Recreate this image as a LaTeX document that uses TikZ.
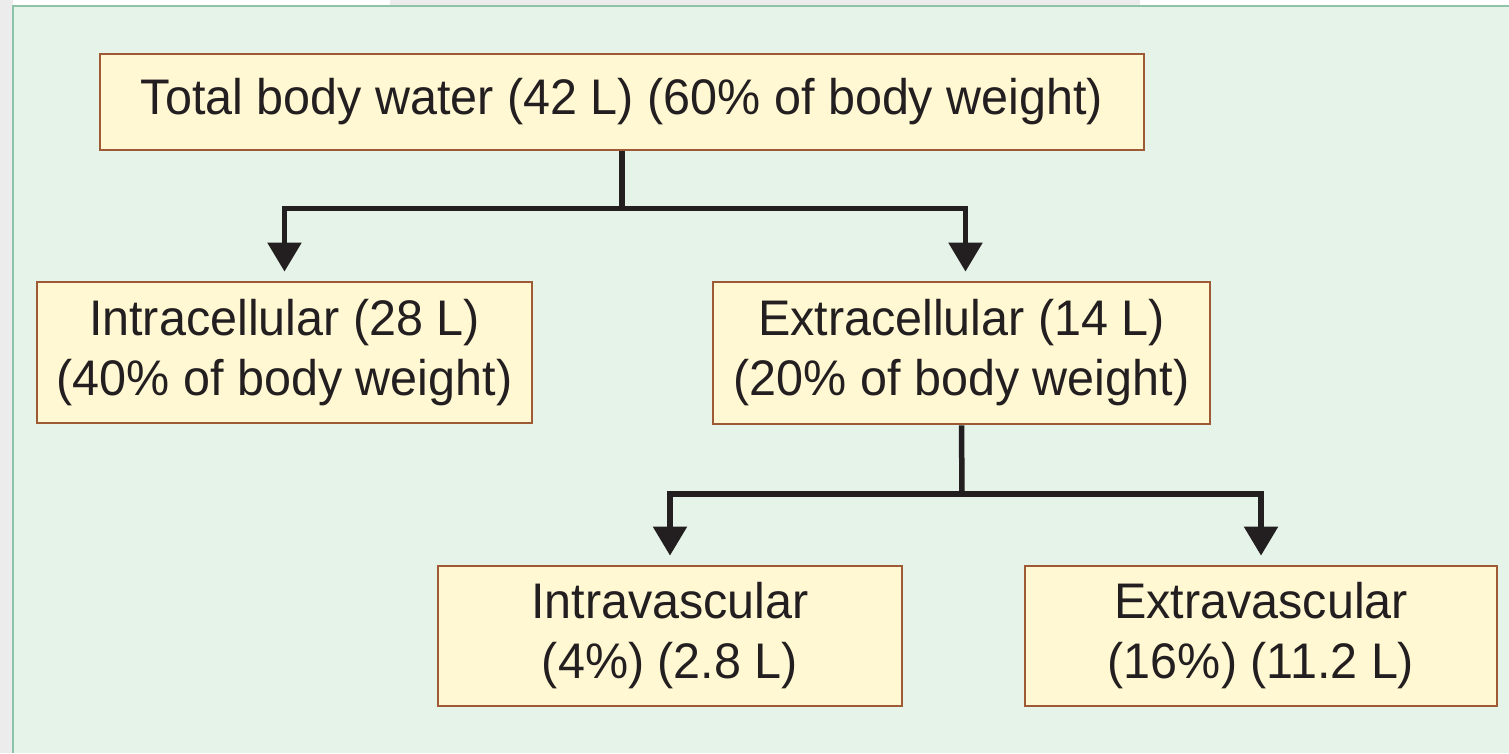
\documentclass[tikz,border=0pt]{standalone}
\usepackage{fontspec}
\setmainfont{Liberation Sans}[FakeStretch=0.97]
\usetikzlibrary{arrows.meta}
\definecolor{panelfill}{HTML}{E5F3E9}
\definecolor{panelline}{HTML}{8EC3AA}
\definecolor{boxfill}{HTML}{FFF8D2}
\definecolor{boxline}{HTML}{9E5A34}
\definecolor{inkc}{HTML}{231F20}
\definecolor{outergray}{HTML}{ECECEC}
\begin{document}
\begin{tikzpicture}[x=1pt,y=-1pt,
  box/.style={draw=boxline, fill=boxfill, line width=2.8pt, text=inkc, align=center,
    inner sep=0pt, font=\fontsize{50}{60}\selectfont},
  conn/.style={draw=inkc, line width=5.5pt},
  arr/.style={conn, -{Triangle[width=33pt,length=29pt]}, shorten >=9pt}]
\useasboundingbox (0,0) rectangle (1509,753);
\fill[white] (0,0) rectangle (1509,753);
\fill[outergray] (0,0) rectangle (13,753);
\fill[outergray] (390,0) rectangle (1140,6);
\fill[panelfill] (13,6) rectangle (1509,753);
\draw[panelline, line width=2.5pt] (13,753) -- (13,6) -- (1509,6);

\node[box, minimum width=1044pt, minimum height=96pt] (tbw) at (622,102)
  {Total body water (42 L) (60\% of body weight)};
\node[box, minimum width=495pt, minimum height=141pt] (icf) at (284.5,352.5)
  {Intracellular (28 L)\\(40\% of body weight)};
\node[box, minimum width=497pt, minimum height=142pt] (ecf) at (961.5,353)
  {Extracellular (14 L)\\(20\% of body weight)};
\node[box, minimum width=464pt, minimum height=140pt] (ivf) at (670,636)
  {Intravascular\\(4\%) (2.8 L)};
\node[box, minimum width=472pt, minimum height=140pt] (evf) at (1261,636)
  {Extravascular\\(16\%) (11.2 L)};

\coordinate (j1) at (622,208.5);
\coordinate (j2) at (962,494);
\draw[conn] (tbw.south) -- (j1);
\draw[arr] (j1) -| (icf.north);
\draw[arr] (j1) -| ([xshift=4pt]ecf.north);
\draw[conn] (ecf.south) -- (j2);
\draw[arr] (j2) -| (ivf.north);
\draw[arr] (j2) -| (evf.north);
\end{tikzpicture}
\end{document}
